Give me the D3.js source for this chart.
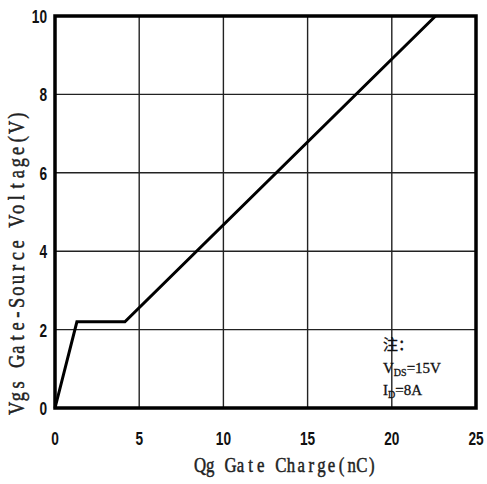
<!DOCTYPE html>
<html>
<head>
<meta charset="utf-8">
<script src="https://cdn.jsdelivr.net/npm/d3@7"></script>
<style>
  body { margin: 0; background: #fff; }
  .tick-label { font-family: "Liberation Sans", sans-serif; font-weight: bold; font-size: 18px; fill: #111; }
  .axis-title { font-family: "Liberation Serif", serif; fill: #222; stroke: #222; stroke-width: 0.5; }
  .note { font-family: "Liberation Serif", "Noto Sans CJK SC", serif; font-size: 15px; fill: #111; stroke: #111; stroke-width: 0.3; }
</style>
</head>
<body>
<svg width="487" height="484"></svg>
<script>
// 栅极电荷曲线数据
const qg = [0, 1.3, 4.15, 22.6];
const vgs = [0, 2.2, 2.2, 10];
const xTicks = [0, 5, 10, 15, 20, 25];
const yTicks = [0, 2, 4, 6, 8, 10];
const xTitle = 'Qg Gate Charge(nC)';
const yTitle = 'Vgs Gate-Source Voltage(V)';
const noteLines = ['注：', 'V_DS=15V', 'I_D=8A'];

let svg = d3.select('svg');
let pLeft = 55, pRight = 476, pTop = 16, pBottom = 408;

let x = d3.scaleLinear().domain([0, 25]).range([pLeft, pRight]);
let y = d3.scaleLinear().domain([0, 10]).range([pBottom, pTop]);

//网格线
let grid = svg.append('g');
grid.selectAll('.gx')
    .data(xTicks.slice(1, -1))
    .enter()
    .append('line')
    .attr('x1', d => x(d)).attr('x2', d => x(d))
    .attr('y1', pTop).attr('y2', pBottom)
    .attr('stroke', '#222').attr('stroke-width', 1.4);
grid.selectAll('.gy')
    .data(yTicks.slice(1, -1))
    .enter()
    .append('line')
    .attr('y1', d => y(d)).attr('y2', d => y(d))
    .attr('x1', pLeft).attr('x2', pRight)
    .attr('stroke', '#222').attr('stroke-width', 1.4);

//边框
svg.append('rect')
    .attr('x', pLeft).attr('y', pTop)
    .attr('width', pRight - pLeft).attr('height', pBottom - pTop)
    .attr('fill', 'none').attr('stroke', '#000').attr('stroke-width', 3.5);

//曲线
let pts = qg.map((d, i) => [d, vgs[i]]);
svg.append('path')
    .datum(pts)
    .attr('d', d3.line().x(d => x(d[0])).y(d => y(d[1])))
    .attr('fill', 'none')
    .attr('stroke', '#000')
    .attr('stroke-width', 3)
    .attr('stroke-linejoin', 'miter');

//刻度文字（窄体）
svg.append('g').selectAll('text')
    .data(xTicks)
    .enter()
    .append('text')
    .attr('class', 'tick-label')
    .attr('transform', d => `translate(${x(d)},445) scale(0.76,1)`)
    .attr('text-anchor', 'middle')
    .text(d => d);
svg.append('g').selectAll('text')
    .data(yTicks)
    .enter()
    .append('text')
    .attr('class', 'tick-label')
    .attr('transform', d => `translate(47,${y(d) + 7}) scale(0.76,1)`)
    .attr('text-anchor', 'end')
    .text(d => d);

//等宽排列的标题：每个字符放在固定宽度的格子里
function monoTitle(str, pitch, sx) {
    let start = -str.length * pitch / 2;
    return str.split('').map((c, i) => ((start + (i + 0.5) * pitch) / sx).toFixed(2)).join(' ');
}
svg.append('text')
    .attr('class', 'axis-title')
    .attr('transform', 'translate(286,472) scale(0.8,1)')
    .attr('font-size', 21)
    .attr('text-anchor', 'middle')
    .attr('x', monoTitle(xTitle, 10.1, 0.8))
    .attr('y', 0)
    .text(xTitle);
svg.append('text')
    .attr('class', 'axis-title')
    .attr('transform', 'translate(24,262) rotate(-90) scale(0.8,1)')
    .attr('font-size', 23)
    .attr('text-anchor', 'middle')
    .attr('x', monoTitle(yTitle, 11.7, 0.8))
    .attr('y', 0)
    .text(yTitle);

//注释
let note = svg.append('text').attr('class', 'note');
noteLines.forEach((s, i) => {
    let t = note.append('tspan').attr('x', 383).attr('y', 350 + i * 22.5);
    let parts = s.split('_');
    if (parts.length === 1) {
        t.text(s).style('font-family', '"Noto Sans CJK SC", serif').style('font-size', '15px');
    } else {
        let sub = parts[1].split('=');
        t.text(parts[0]);
        t.append('tspan').attr('dy', 3).style('font-size', '10px').text(sub[0]);
        t.append('tspan').attr('dy', -3).text('=' + sub[1]);
    }
});
</script>
</body>
</html>
